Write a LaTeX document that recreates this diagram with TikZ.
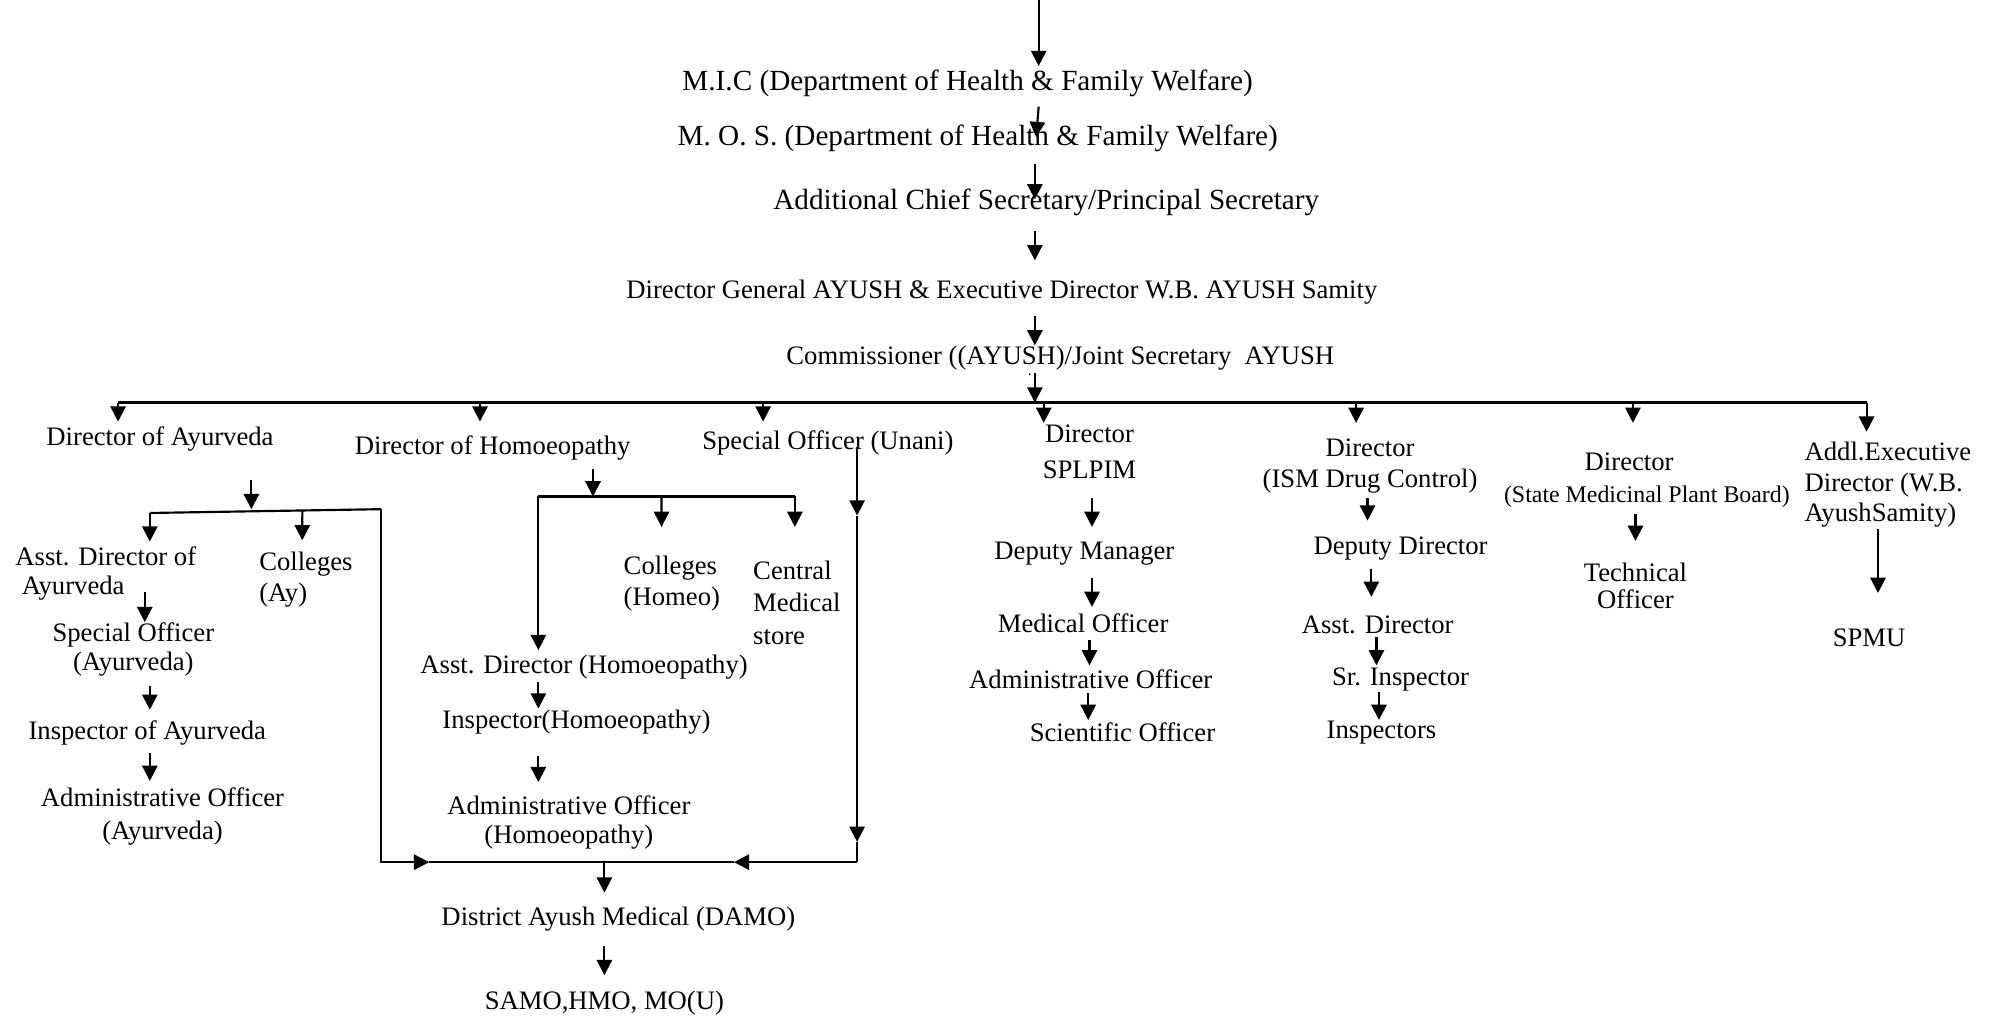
\documentclass[tikz,border=0pt]{standalone}
\usepackage{fontspec}
\setmainfont{Liberation Serif}
\usetikzlibrary{arrows.meta,calc}
\begin{document}
\begin{tikzpicture}[x=1pt,y=-1pt,
  lbl/.style={inner sep=0pt, yshift=-2pt, align=center, font=\fontsize{21}{24}\selectfont},
  lblL/.style={inner sep=0pt, yshift=-2pt, align=left, anchor=west, font=\fontsize{21}{24}\selectfont},
  big/.style={inner sep=0pt, yshift=-2pt, align=center, font=\fontsize{23}{26}\selectfont},
  arr/.style={line width=1.7pt, -{Triangle[length=12pt,width=12pt]}},
  ln/.style={line width=1.7pt}]
\useasboundingbox (0,0) rectangle (1568,802);

% ---------- top chain ----------
\coordinate (top) at (818,0);
\node[big] (mic) at (762,64) {M.I.C (Department of Health \& Family Welfare)};
\node[big] (mos) at (770,107) {M. O. S. (Department of Health \& Family Welfare)};
\node[big] (acs) at (824,157) {Additional Chief Secretary/Principal Secretary};
\node[lbl] (dg) at (789,228) {Director General AYUSH \& Executive Director W.B. AYUSH Samity};
\node[lbl] (comm) at (835,280) {Commissioner ((AYUSH)/Joint Secretary~~AYUSH};
\node[inner sep=0pt, font=\fontsize{12}{12}\selectfont] (dot) at (811,295) {.};

\draw[arr] (top) -- ($(mic)+(56,-14)$);
\draw[arr] ($(mic)+(56,18)$) -- ($(mos)+(46,-1)$);
\draw[arr] ($(mos)+(45,20)$) -- ($(acs)+(-9,-2)$);
\draw[arr] ($(acs)+(-9,23)$) -- ($(dg)+(26,-25)$);
\draw[arr] ($(dg)+(26,19)$) -- ($(comm)+(-20,-10)$);
\draw[arr] ($(comm)+(-20,12)$) -- ($(comm)+(-20,35)$);

% ---------- second level ----------
\coordinate (busL) at (93,317);
\coordinate (busR) at (1470,317);
\draw[ln] (busL) -- (busR);

\node[lbl] (dAy) at (126,344) {Director of Ayurveda};
\node[lbl] (dHo) at (388,351) {Director of Homoeopathy};
\node[lbl] (soU) at (652,347) {Special Officer (Unani)};
\node[lbl, font=\fontsize{21}{28}\selectfont] (dSp) at (858,354) {Director\\SPLPIM};
\node[lbl, font=\fontsize{21}{25}\selectfont] (dIsm) at (1079,365) {Director\\(ISM Drug Control)};
\node[lbl, font=\fontsize{21}{25}\selectfont] (dSm) at (1297,376) {Director\hspace*{28pt}\\{\fontsize{18.8}{25}\selectfont (State Medicinal Plant Board)}};
\node[lblL] (aEx) at (1421,380) {Addl.Executive\\Director (W.B.\\AyushSamity)};

\draw[arr] (busL) -- ($(dAy)+(-33,-14)$);
\draw[arr] ($(dHo)+(-10,-36)$) -- ($(dHo)+(-10,-21)$);
\draw[arr] ($(soU)+(-51,-32)$) -- ($(soU)+(-51,-17)$);
\draw[arr] ($(dSp)+(-36,-39)$) -- ($(dSp)+(-36,-23)$);
\draw[arr] ($(dIsm)+(-11,-50)$) -- ($(dIsm)+(-11,-34)$);
\draw[arr] ($(dSm)+(-11,-61)$) -- ($(dSm)+(-11,-45)$);
\draw[arr] (busR) -- ($(aEx.west)+(49,-42)$);

% ---------- Ayurveda branch ----------
\coordinate (ayL) at (118,404);
\coordinate (ayR) at (300,401);
\draw[arr] ($(dAy)+(72,32)$) -- ($(dAy)+(72,55)$);
\draw[ln] (ayL) -- (ayR);

\node[lblL, font=\fontsize{21}{23}\selectfont] (aAd) at (12,449.5) {Asst. Director of\\\hspace*{5pt}Ayurveda};
\node[lblL, font=\fontsize{21}{25}\selectfont] (cAy) at (204,454.5) {Colleges\\(Ay)};
\node[lbl, font=\fontsize{21}{23}\selectfont] (sOA) at (105,509.5) {Special Officer\\(Ayurveda)};
\node[lbl] (iAy) at (116,575) {Inspector of Ayurveda};
\node[lbl, font=\fontsize{21}{26}\selectfont] (aoA) at (128,641) {Administrative Officer\\(Ayurveda)};

\draw[arr] (ayL) -- ($(aAd.west)+(106,-25)$);
\draw[arr] ($(ayL)!0.66!(ayR)$) -- ($(cAy.west)+(34,-31)$);
\draw[arr] ($(aAd.west)+(102,14.5)$) -- ($(sOA)+(9,-21.5)$);
\draw[arr] ($(sOA)+(13,28.5)$) -- ($(iAy)+(2,-18)$);
\draw[arr] ($(iAy)+(2,16)$) -- ($(aoA)+(-10,-28)$);

% ---------- Homoeopathy branch ----------
\coordinate (hoL) at (424,391);
\coordinate (hoR) at (626,391);
\draw[arr] ($(dHo)+(79,16)$) -- ($(dHo)+(79,38)$);
\draw[ln] (hoL) -- (hoR);

\node[lblL, font=\fontsize{21}{25}\selectfont] (cHo) at (491,457.5) {Colleges\\(Homeo)};
\node[lblL, font=\fontsize{21}{25.5}\selectfont] (cms) at (593,472.5) {Central\\Medical\\store};
\node[lbl] (adH) at (460,523) {Asst. Director (Homoeopathy)};
\node[lbl] (inH) at (454,567) {Inspector(Homoeopathy)};
\node[lbl, font=\fontsize{21}{23}\selectfont] (aoH) at (448,645.5) {Administrative Officer\\(Homoeopathy)};

\draw[arr] (hoL) -- ($(adH)+(-36,-13)$);
\draw[arr] ($(hoL)!0.48!(hoR)$) -- ($(cHo.west)+(30,-44.5)$);
\draw[arr] (hoR) -- ($(cms.west)+(33,-59.5)$);
\draw[arr] ($(adH)+(-36,12)$) -- ($(inH)+(-30,-11)$);
\draw[arr] ($(inH)+(-30,26)$) -- ($(aoH)+(-24,-31.5)$);

% ---------- merge to DAMO ----------
\node[lbl] (damo) at (487,722) {District Ayush Medical (DAMO)};
\node[lbl] (samo) at (476,788) {SAMO,HMO, MO(U)};
\coordinate (mgL) at (300,679);
\coordinate (mgR) at (675,679);
\coordinate (mgC) at (476,679);

\draw[arr] (ayR) -- (mgL) -- ($(mgL)+(38,0)$);
\draw[ln] ($(mgL)+(38,0)$) -- ($(mgR)+(-97,0)$);
\draw[arr] ($(soU)+(23,3)$) -- ($(soU)+(23,57)$);
\draw[arr] ($(soU)+(23,57)$) -- ($(soU)+(23,314)$);
\draw[ln] ($(soU)+(23,314)$) -- (mgR);
\draw[arr] (mgR) -- ($(mgR)+(-97,0)$);
\draw[arr] (mgC) -- ($(damo)+(-11,-21)$);
\draw[arr] ($(damo)+(-11,21)$) -- ($(samo)+(0,-22)$);

% ---------- SPLPIM branch ----------
\node[lbl] (dm) at (854,434) {Deputy Manager};
\node[lbl] (mo) at (853,489) {Medical Officer};
\node[lbl] (aoS) at (859,533) {Administrative Officer};
\node[lbl] (so) at (884,575) {Scientific Officer};
\draw[arr] ($(dSp)+(2,36)$) -- ($(dm)+(6,-21)$);
\draw[arr] ($(dm)+(6,19)$) -- ($(mo)+(7,-13)$);
\draw[arr] ($(mo)+(5,13)$) -- ($(aoS)+(-1,-11)$);
\draw[arr] ($(aoS)+(-2,11)$) -- ($(so)+(-27,-10)$);

% ---------- ISM branch ----------
\node[lbl] (dd) at (1103,430) {Deputy Director};
\node[lbl] (ad) at (1085,490) {Asst. Director};
\node[lbl] (si) at (1103,533) {Sr. Inspector};
\node[lbl] (ins) at (1088,575) {Inspectors};
\draw[arr] ($(dIsm)+(-2,25)$) -- ($(dd)+(-26,-22)$);
\draw[arr] ($(dd)+(-23,16)$) -- ($(ad)+(-5,-22)$);
\draw[arr] ($(ad)+(-1,10)$) -- ($(si)+(-19,-11)$);
\draw[arr] ($(si)+(-17,10)$) -- ($(ins)+(-2,-10)$);

% ---------- SMPB branch ----------
\node[lbl, font=\fontsize{21}{21}\selectfont] (to) at (1288,459.5) {Technical\\Officer};
\draw[arr] ($(dSm)+(-9,27)$) -- ($(to)+(0,-35.5)$);

% ---------- Addl. Executive Director ----------
\node[lbl] (spmu) at (1472,500) {SPMU};
\draw[arr] ($(aEx.west)+(58,35)$) -- ($(spmu)+(7,-35)$);
\end{tikzpicture}
\end{document}
